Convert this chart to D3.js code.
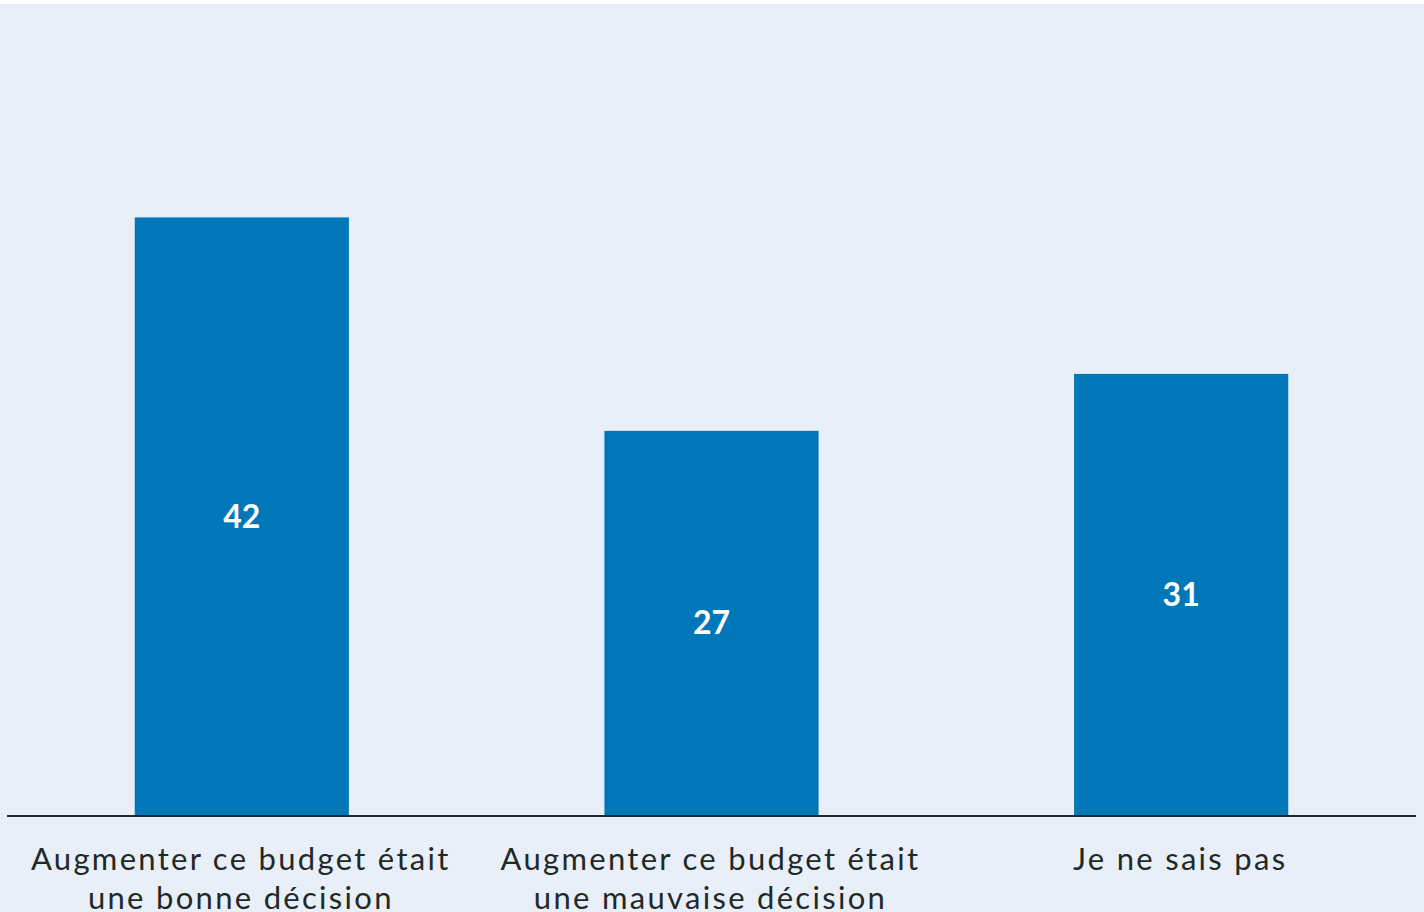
<!DOCTYPE html>
<html>
<head>
<meta charset="utf-8">
<script src="https://cdn.jsdelivr.net/npm/d3@7"></script>
<style>
  body { margin: 0; background: #ffffff; }
  svg { display: block; }
</style>
</head>
<body>
<div class="chart"></div>
<script>
const categories = [
  ["Augmenter ce budget était", "une bonne décision"],
  ["Augmenter ce budget était", "une mauvaise décision"],
  ["Je ne sais pas"]
];
const values = [42, 27, 31];

const width = 1424, height = 912;
const baseY = 815;

const svg = d3.select("div.chart").append("svg")
  .attr("width", width)
  .attr("height", height);

svg.append("rect")
  .attr("x", 0).attr("y", 4)
  .attr("width", width).attr("height", height - 4)
  .style("fill", "#e8eff9");

const x = d3.scaleBand()
  .domain(d3.range(values.length))
  .range([7, 1416])
  .paddingInner(0.544)
  .paddingOuter(0.272);

const y = d3.scaleLinear()
  .domain([0, 57])
  .range([baseY, 4]);

svg.selectAll("rect.bar")
  .data(values)
  .enter().append("rect")
  .attr("class", "bar")
  .attr("x", (d, i) => x(i))
  .attr("y", d => y(d))
  .attr("width", x.bandwidth())
  .attr("height", d => baseY - y(d))
  .style("fill", "#0077b9");

svg.selectAll("text.value")
  .data(values)
  .enter().append("text")
  .attr("class", "value")
  .attr("x", (d, i) => x(i) + x.bandwidth() / 2)
  .attr("y", d => (y(d) + baseY) / 2)
  .attr("dy", "0.36em")
  .attr("text-anchor", "middle")
  .style("font-family", "Lato, sans-serif")
  .style("font-weight", "bold")
  .style("font-size", "32px")
  .style("fill", "#ffffff")
  .text(d => d);

// baseline
svg.append("line")
  .attr("x1", 7).attr("x2", 1416)
  .attr("y1", baseY + 1).attr("y2", baseY + 1)
  .style("stroke", "#1f2926")
  .style("stroke-width", 2);

const labels = svg.selectAll("text.cat")
  .data(categories)
  .enter().append("text")
  .attr("class", "cat")
  .attr("x", (d, i) => x(i) + x.bandwidth() / 2 - 1)
  .attr("y", 870)
  .attr("text-anchor", "middle")
  .style("font-family", "Lato, sans-serif")
  .style("font-size", "31px")
  .style("letter-spacing", "2.3px")
  .style("fill", "#1f2926");

labels.each(function(d) {
  const t = d3.select(this);
  d.forEach((line, k) => {
    t.append("tspan")
      .attr("x", t.attr("x"))
      .attr("dy", k === 0 ? 0 : 39)
      .text(line);
  });
});
</script>
</body>
</html>
